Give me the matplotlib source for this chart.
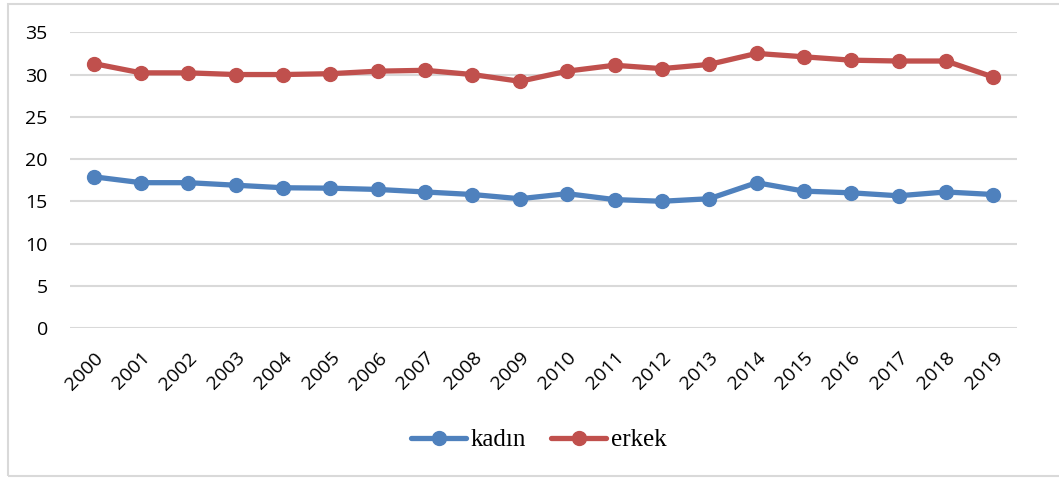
import numpy as np
import matplotlib.pyplot as plt
from matplotlib.patches import Rectangle
from matplotlib.transforms import ScaledTranslation

years = [str(y) for y in range(2000, 2020)]
kadin = [17.9, 17.2, 17.2, 16.9, 16.6, 16.55, 16.4, 16.1, 15.8, 15.3,
         15.9, 15.2, 15.0, 15.3, 17.2, 16.2, 16.0, 15.65, 16.1, 15.8]
erkek = [31.3, 30.2, 30.2, 30.0, 30.0, 30.1, 30.4, 30.5, 30.0, 29.2,
         30.4, 31.1, 30.7, 31.2, 32.5, 32.1, 31.7, 31.6, 31.6, 29.7]
yticks = [0, 5, 10, 15, 20, 25, 30, 35]

blue = '#4F81BD'
red = '#C0504D'

fig = plt.figure(figsize=(10.59, 4.8), dpi=100)
# outer chart border
fig.patches.append(Rectangle((8/1059, 4/480), 1.0, 472/480, transform=fig.transFigure,
                             fill=False, edgecolor='#D9D9D9', linewidth=1.5))

ax = fig.add_axes([70/1059, 1 - 328/480, (1017 - 70)/1059, (328 - 32.3)/480])
x = np.arange(len(years))
ax.plot(x, kadin, color=blue, lw=3.8, marker='o', ms=10, label='kadın', solid_capstyle='round')
ax.plot(x, erkek, color=red, lw=3.8, marker='o', ms=10, label='erkek', solid_capstyle='round')

ax.set_xlim(-0.5, len(years) - 0.5)
ax.set_ylim(0, 35)
ax.set_yticks(yticks)
ax.set_xticks(x)
ax.set_xticklabels(years, rotation=45, ha='right', va='top', rotation_mode='anchor',
                   family='Open Sans', fontsize=14)
shift = ScaledTranslation(4/100, 0, fig.dpi_scale_trans)
for t in ax.get_xticklabels():
    t.set_transform(t.get_transform() + shift)
for t in ax.get_yticklabels():
    t.set_family('Open Sans')
    t.set_fontsize(14)
ax.tick_params(axis='y', length=0, pad=16)
ax.tick_params(axis='x', length=0, pad=15)
ax.grid(axis='y', color='#D9D9D9', linewidth=1.5)
ax.set_axisbelow(True)
for s in ax.spines.values():
    s.set_visible(False)

leg = fig.legend(loc='center', bbox_to_anchor=(539/1059, 1 - 440/480), ncol=2, frameon=False,
                 prop={'family': 'Liberation Serif', 'size': 18}, handlelength=2.2,
                 handletextpad=0.2, columnspacing=1.0)

fig.savefig('out.png', dpi=100)
